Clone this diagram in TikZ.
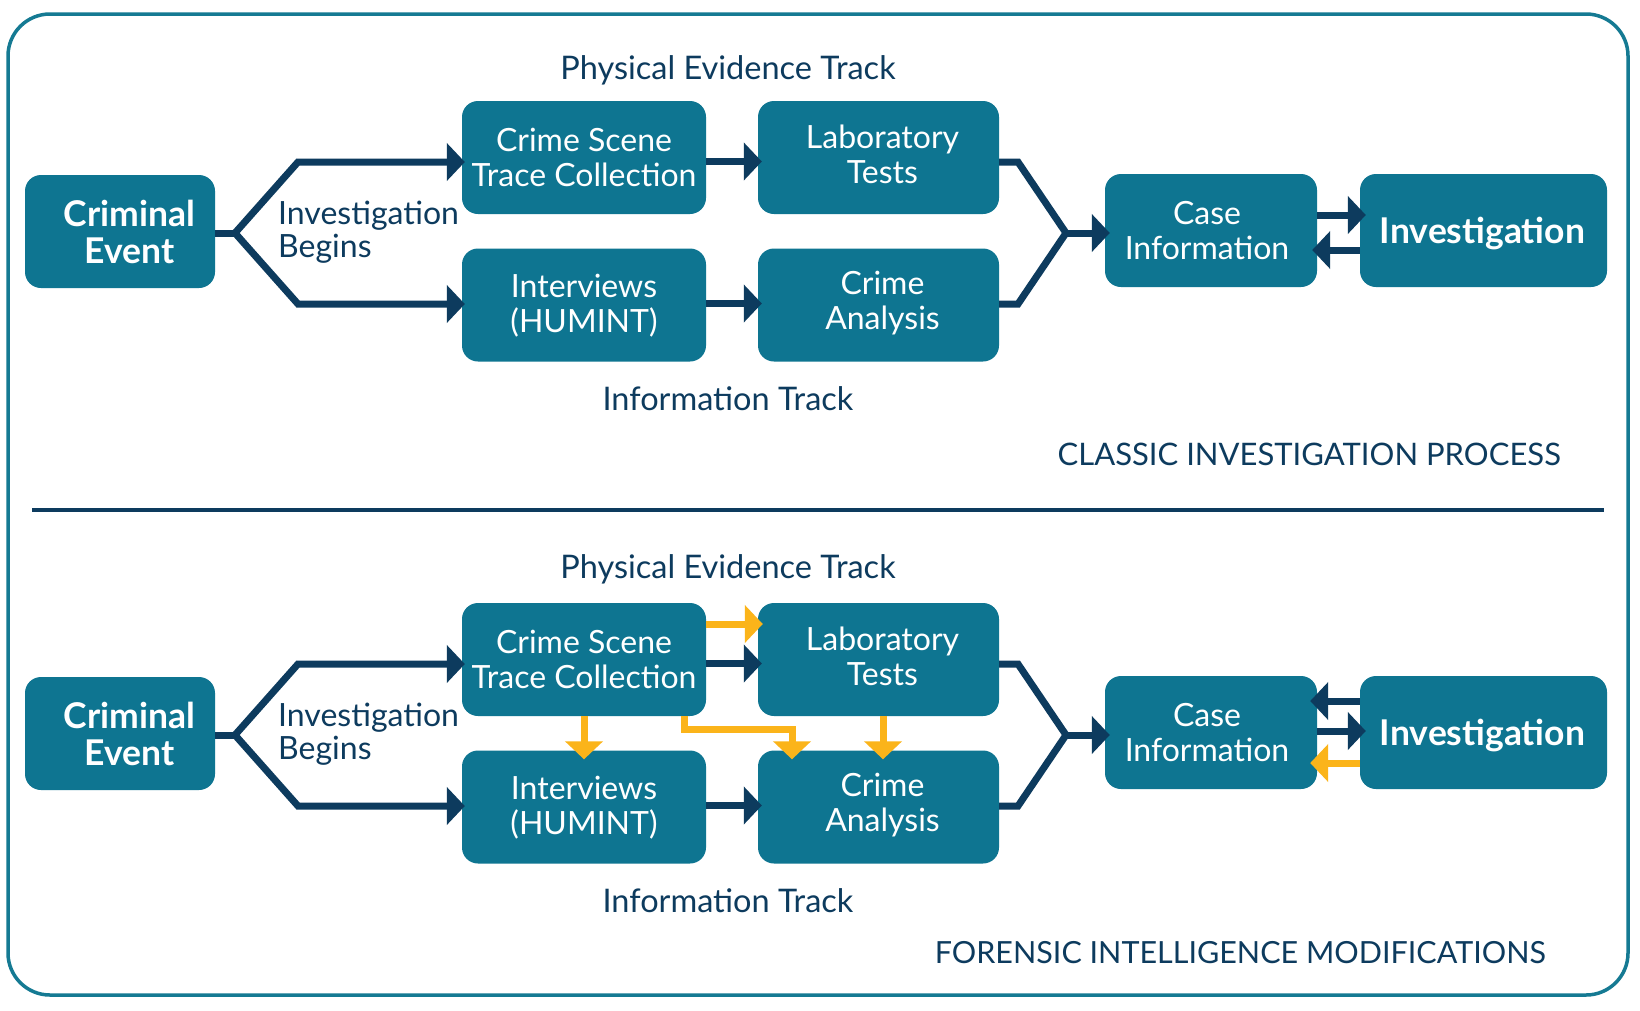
\documentclass[tikz,border=0pt]{standalone}
\usepackage{fontspec}
\setmainfont{Lato}
\usetikzlibrary{arrows.meta,calc}
\definecolor{boxc}{HTML}{0E7591}
\definecolor{navy}{HTML}{0D3B5E}
\definecolor{gold}{HTML}{FBB41A}
\definecolor{rim}{HTML}{157A93}
\begin{document}
\begin{tikzpicture}[x=1pt,y=-1pt,
  box/.style={fill=boxc, rounded corners=16pt, inner sep=0pt, minimum height=113pt},
  btxt/.style={text=white, align=center, inner sep=0pt, font=\fontsize{32}{35}\selectfont},
  bbtxt/.style={btxt, font=\fontsize{35.5}{37}\selectfont\bfseries},
  tip/.style={-{Triangle[length=18pt,width=37pt]}},
  nav/.style={draw=navy, line width=7pt, tip, shorten >=-4pt},
  navline/.style={draw=navy, line width=7pt},
  yel/.style={draw=gold, line width=7pt, tip, shorten >=-5pt},
  lbl/.style={text=navy, inner sep=0pt, font=\fontsize{32.5}{37}\selectfont},
  lbs/.style={text=navy, inner sep=0pt, font=\fontsize{32}{33}\selectfont, align=left},
  captxt/.style={text=navy, inner sep=0pt, font=\fontsize{31}{33}\selectfont},
]
\useasboundingbox (0,0) rectangle (1640,1010);
\fill[white] (0,0) rectangle (1640,1010);
\draw[rim, line width=3.5pt, rounded corners=42pt] (8,14) rectangle (1628,995);
\draw[navy, line width=4pt] (32,510) -- (1604,510);

\foreach \s/\o/\py in {1/0/79, 2/502/578}{
  \node[box, minimum width=190pt] (ce\s) at (120,231.5+\o) {};
  \node[box, minimum width=244pt] (cs\s) at (584,157.5+\o) {};
  \node[box, minimum width=244pt] (iv\s) at (584,305+\o) {};
  \node[box, minimum width=241pt] (lb\s) at (878.5,157.5+\o) {};
  \node[box, minimum width=241pt] (ca\s) at (878.5,305+\o) {};
  \node[box, minimum width=212pt] (ci\s) at (1211,230.5+\o) {};
  \node[box, minimum width=247pt] (in\s) at (1483.5,230.5+\o) {};

  \node[bbtxt] (tce\s) at ([xshift=9.5pt,yshift=-0.5pt]ce\s.center) {Criminal\\Event};
  \node[btxt] (tcs\s) at (cs\s.center) {Crime Scene\\Trace Collection};
  \node[btxt] (tiv\s) at ([yshift=-1pt]iv\s.center) {Interviews\\(HUMINT)};
  \node[btxt] (tlb\s) at ([xshift=4pt,yshift=3.5pt]lb\s.center) {Laboratory\\Tests};
  \node[btxt] (tca\s) at ([xshift=4pt,yshift=2pt]ca\s.center) {Crime\\Analysis};
  \node[btxt] (tci\s) at ([xshift=-4pt]ci\s.center) {Case\\Information};
  \node[bbtxt] (tin\s) at ([xshift=-1pt,yshift=-3pt]in\s.center) {Investigation};

  \node[lbl, anchor=base] (pe\s) at (728,\py) {Physical Evidence Track};
  \node[lbl, anchor=base] (it\s) at (728,410+\o) {Information Track};
  \node[lbs, anchor=west] (ib\s) at (278,232.5+\o) {Investigation\\Begins};

  \coordinate (b\s) at (235,233+\o);
  \coordinate (u\s) at (298,162+\o);
  \coordinate (d\s) at (298,304+\o);
  \coordinate (ru\s) at (1018,162+\o);
  \coordinate (rd\s) at (1018,304+\o);
  \coordinate (m\s) at (1066,233+\o);

  \draw[navline] (ce\s.east |- b\s) -- (b\s);
  \draw[navline, {Triangle[length=18pt,width=37pt]}-{Triangle[length=18pt,width=37pt]},
        shorten <=-3pt, shorten >=-3pt]
        (cs\s.west |- u\s) -- (u\s) -- (b\s) -- (d\s) -- (iv\s.west |- d\s);
  \draw[nav] ([yshift=-4pt]cs\s.east) -- ([yshift=-4pt]lb\s.west);
  \draw[nav] ([yshift=1.5pt]iv\s.east) -- ([yshift=1.5pt]ca\s.west);
  \draw[navline] (lb\s.east |- ru\s) -- (ru\s) -- (m\s) -- (rd\s) -- (ca\s.east |- rd\s);
  \draw[nav, shorten >=-5pt] (m\s) -- (ci\s.west |- m\s);
}

% top: case <-> investigation
\draw[nav, shorten >=-6pt] ([yshift=15.5pt]ci1.east) -- ([yshift=15.5pt]in1.west);
\draw[nav, shorten >=-5pt] ([yshift=-19.5pt]in1.west) -- ([yshift=-19.5pt]ci1.east);

% bottom: case <-> investigation
\draw[nav, shorten >=-7pt] ([yshift=31.5pt]in2.west) -- ([yshift=31.5pt]ci2.east);
\draw[nav, shorten >=-6pt] ([yshift=1.5pt]ci2.east) -- ([yshift=1.5pt]in2.west);
\draw[yel, shorten >=-7pt] ([yshift=-30.5pt]in2.west) -- ([yshift=-30.5pt]ci2.east);

% bottom: forensic intelligence links
\draw[yel] ([yshift=35.5pt]cs2.east) -- ([yshift=35.5pt]lb2.west);
\draw[yel, shorten >=-9pt] (cs2.south) -- (iv2.north);
\coordinate (e2) at (792,729);
\draw[yel, shorten >=-9pt] ([xshift=100pt]cs2.south) |- (e2) -- (e2 |- ca2.north);
\draw[yel, shorten >=-9pt] ([xshift=4.5pt]lb2.south) -- ([xshift=4.5pt]ca2.north);

\node[captxt, anchor=base east] (cap1) at (1561,465) {CLASSIC INVESTIGATION PROCESS};
\node[captxt, anchor=base east, font=\fontsize{30.5}{33}\selectfont] (cap2) at (1546,963) {FORENSIC INTELLIGENCE MODIFICATIONS};
\end{tikzpicture}
\end{document}
